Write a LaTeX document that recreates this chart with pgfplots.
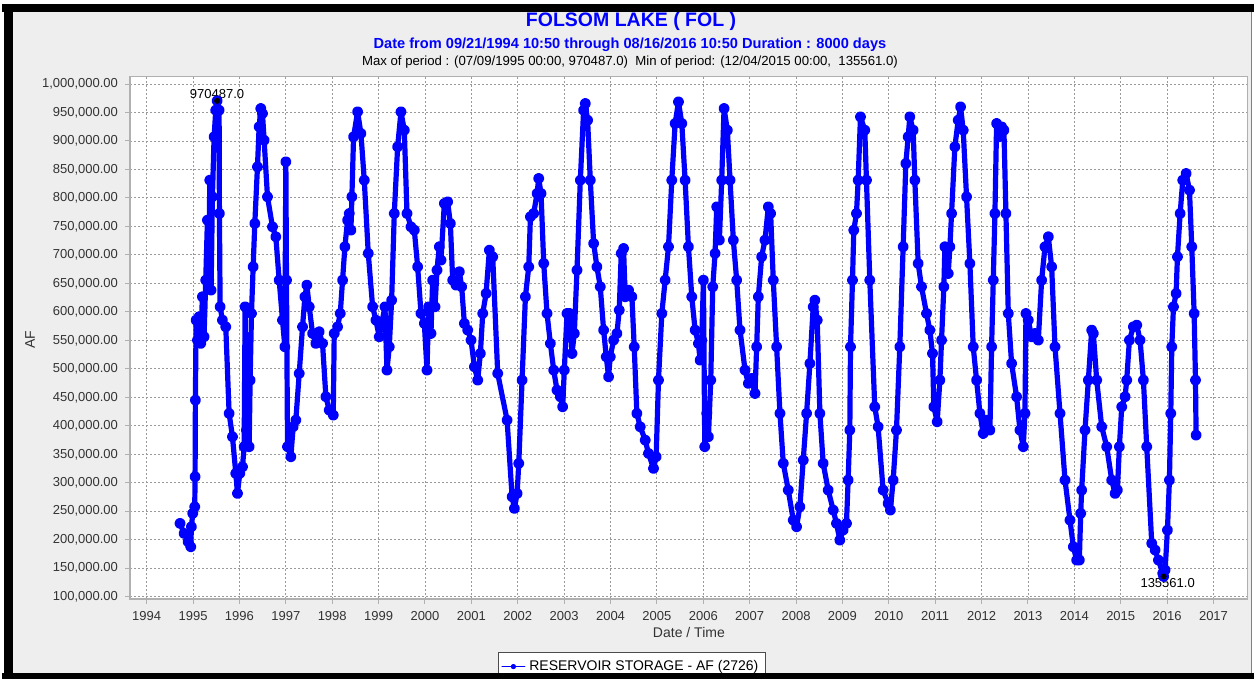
\documentclass[border=0pt]{standalone}
\usepackage{fontspec}
\setmainfont{Liberation Sans}
\usepackage{pgfplots}
\pgfplotsset{compat=1.18}
\definecolor{panel}{HTML}{EEEEEE}
\definecolor{frameg}{HTML}{B0B0B0}
\definecolor{gridg}{HTML}{9A9A9A}
\definecolor{serblue}{RGB}{0,0,255}
\definecolor{lbl}{HTML}{333333}
\begin{document}
\begin{tikzpicture}
\fill[white] (0,0) rectangle (627bp,339.5bp);
\path[use as bounding box] (0,0) rectangle (627bp,339.5bp);
\fill[panel] (6bp,3bp) rectangle (625.5bp,333.5bp);
\node[font=\fontsize{9.75bp}{11bp}\selectfont\bfseries, text=serblue] at (315.5bp,328.8bp) {FOLSOM LAKE ( FOL )};
\node[font=\fontsize{7.3bp}{9bp}\selectfont\bfseries, text=serblue] at (315bp,317.3bp) {Date from 09/21/1994 10:50 through 08/16/2016 10:50 Duration : 8000 days};
\node[font=\fontsize{6.6bp}{8bp}\selectfont, text=black] at (315bp,308.5bp) {Max of period : (07/09/1995 00:00, 970487.0)\ \ Min of period: (12/04/2015 00:00,\ \ 135561.0)};
\begin{axis}[
  at={(65bp,40bp)}, anchor=south west,
  scale only axis, width=558.9bp, height=261.2bp,
  xmin=1993.64, xmax=2017.74,
  ymin=96000, ymax=1013000,
  xtick={1994,1995,...,2017},
  ytick={100000,150000,...,1000000},
  scaled x ticks=false, scaled y ticks=false,
  xticklabel style={/pgf/number format/.cd, 1000 sep={}, assume math mode=true},
  yticklabel style={/pgf/number format/.cd, fixed, fixed zerofill, precision=2, 1000 sep={,}, assume math mode=true},
  tick label style={font=\fontsize{6.5bp}{8bp}\selectfont, text=lbl},
  tick align=outside, tick pos=left,
  major tick length=2.5bp,
  tick style={frameg, line width=0.5bp},
  axis line style={frameg, line width=0.6bp},
  axis background/.style={fill=white},
  grid=major,
  major grid style={gridg, dash pattern=on 1bp off 1bp, line width=0.45bp},
  xlabel={Date / Time}, ylabel={AF},
  xlabel style={at={(axis description cs:0.5,-0.0632)}, anchor=center, font=\fontsize{7bp}{8bp}\selectfont, text=lbl},
  ylabel style={at={(axis description cs:-0.0894,0.496)}, anchor=center, font=\fontsize{7bp}{8bp}\selectfont, text=lbl},
  legend style={at={(0.449,-0.1015)}, anchor=north, draw=black!70, fill=white, font=\fontsize{7bp}{8bp}\selectfont, inner xsep=1.5bp, inner ysep=1.8bp, text=black},
  legend cell align=left,
  legend image code/.code={\draw[mark repeat=2,mark phase=2,line width=0.6bp, mark size=1bp] plot coordinates {(0cm,0cm) (0.2cm,0cm) (0.4cm,0cm)};},
]
\addplot[serblue, line width=2.6bp, line join=round, line cap=round, mark=*, mark size=1.45bp, mark options={solid}] coordinates {
(1994.719,228700) (1994.806,211100) (1994.892,196500) (1994.950,187700) (1994.964,222800)
(1994.993,246300) (1995.036,257900) (1995.043,310600) (1995.050,445100) (1995.065,585500)
(1995.094,550400) (1995.129,591400) (1995.165,544600) (1995.201,626500) (1995.237,556300)
(1995.273,655700) (1995.309,761000) (1995.338,655700) (1995.360,831200) (1995.388,638200)
(1995.417,802000) (1995.453,907300) (1995.489,954100) (1995.518,970487) (1995.561,954100)
(1995.568,772700) (1995.583,608900) (1995.633,585500) (1995.705,573800) (1995.777,421800)
(1995.849,380800) (1995.921,316400) (1995.957,281300) (1996.007,316400) (1996.065,328100)
(1996.101,363300) (1996.122,608900) (1996.151,392500) (1996.173,538700) (1996.209,363300)
(1996.230,480200) (1996.259,597200) (1996.295,679100) (1996.331,755200) (1996.388,854600)
(1996.424,924800) (1996.460,957000) (1996.496,948200) (1996.532,901400) (1996.604,802000)
(1996.712,749300) (1996.784,731800) (1996.856,655700) (1996.928,585500) (1996.978,538700)
(1997.000,863400) (1997.014,655700) (1997.036,363300) (1997.108,345700) (1997.158,398300)
(1997.216,410000) (1997.288,491900) (1997.360,573800) (1997.410,626500) (1997.453,647000)
(1997.504,608900) (1997.576,562100) (1997.647,544600) (1997.719,565100) (1997.791,544600)
(1997.863,451000) (1997.935,427600) (1998.022,418800) (1998.043,562100) (1998.115,573800)
(1998.173,597200) (1998.223,655700) (1998.273,714300) (1998.331,761000) (1998.367,772700)
(1998.403,743500) (1998.424,802000) (1998.460,907300) (1998.547,951200) (1998.619,913100)
(1998.691,831200) (1998.777,702600) (1998.871,608900) (1998.942,585500) (1999.014,556300)
(1999.065,579700) (1999.137,608900) (1999.180,497800) (1999.230,538700) (1999.281,620600)
(1999.338,772700) (1999.410,889700) (1999.482,951200) (1999.554,919000) (1999.612,772700)
(1999.698,749300) (1999.770,743500) (1999.842,679100) (1999.914,597200) (1999.986,579700)
(2000.043,497800) (2000.079,608900) (2000.129,562100) (2000.165,655700) (2000.216,608900)
(2000.259,673300) (2000.309,714300) (2000.345,690900) (2000.417,790300) (2000.489,793200)
(2000.547,755200) (2000.597,655700) (2000.669,647000) (2000.741,670400) (2000.791,644100)
(2000.849,579700) (2000.921,568000) (2000.993,550400) (2001.065,503600) (2001.137,480200)
(2001.194,527000) (2001.245,597200) (2001.317,632300) (2001.388,708400) (2001.460,696700)
(2001.568,491900) (2001.770,410000) (2001.878,275500) (2001.928,255000) (2001.986,281300)
(2002.022,334000) (2002.093,480200) (2002.165,626500) (2002.237,679100) (2002.273,766900)
(2002.344,772700) (2002.416,807800) (2002.452,834200) (2002.502,807800) (2002.560,685000)
(2002.631,597200) (2002.703,544600) (2002.775,497800) (2002.846,462700) (2002.918,451000)
(2002.968,433400) (2003.004,497800) (2003.062,597200) (2003.119,597200) (2003.169,527000)
(2003.220,562100) (2003.277,673300) (2003.349,831200) (2003.420,954100) (2003.456,965800)
(2003.506,936500) (2003.564,831200) (2003.636,720100) (2003.707,679100) (2003.779,644100)
(2003.851,568000) (2003.908,521200) (2003.958,486100) (2003.994,521200) (2004.066,550400)
(2004.138,562100) (2004.188,603100) (2004.231,702600) (2004.281,711300) (2004.317,626500)
(2004.389,638200) (2004.461,626500) (2004.511,538700) (2004.568,421800) (2004.640,398300)
(2004.748,374900) (2004.819,351500) (2004.927,325200) (2004.984,345700) (2005.034,480200)
(2005.106,597200) (2005.178,655700) (2005.250,714300) (2005.321,831200) (2005.393,930700)
(2005.465,968700) (2005.537,930700) (2005.608,831200) (2005.680,714300) (2005.752,626500)
(2005.824,568000) (2005.895,544600) (2005.931,515300) (2005.967,550400) (2006.003,655700)
(2006.032,363300) (2006.075,421800) (2006.111,380800) (2006.161,480200) (2006.204,644100)
(2006.254,702600) (2006.290,784400) (2006.347,726000) (2006.397,831200) (2006.448,957000)
(2006.519,919000) (2006.577,831200) (2006.648,726000) (2006.720,655700) (2006.792,568000)
(2006.900,497800) (2006.971,474400) (2007.043,483200) (2007.115,456800) (2007.151,538700)
(2007.187,626500) (2007.258,696700) (2007.330,726000) (2007.402,784400) (2007.452,772700)
(2007.509,655700) (2007.581,538700) (2007.653,421800) (2007.725,334000) (2007.832,287200)
(2007.940,234500) (2008.011,222800) (2008.083,257900) (2008.155,339800) (2008.227,421800)
(2008.299,509500) (2008.370,608900) (2008.406,620600) (2008.456,585500) (2008.514,421800)
(2008.585,334000) (2008.693,287200) (2008.801,252100) (2008.872,228700) (2008.944,199400)
(2009.016,217000) (2009.087,228700) (2009.123,304700) (2009.159,392500) (2009.174,538700)
(2009.217,655700) (2009.245,743500) (2009.303,772700) (2009.339,831200) (2009.389,942400)
(2009.482,919000) (2009.518,831200) (2009.590,655700) (2009.697,433400) (2009.769,398300)
(2009.877,287200) (2009.984,263800) (2010.034,252100) (2010.094,304700) (2010.165,392500)
(2010.237,538700) (2010.309,714300) (2010.367,860500) (2010.417,907300) (2010.453,942400)
(2010.525,919000) (2010.561,831200) (2010.633,685000) (2010.705,644100) (2010.813,597200)
(2010.885,568000) (2010.942,527000) (2010.971,433400) (2011.043,407100) (2011.101,480200)
(2011.137,550400) (2011.187,644100) (2011.209,714300) (2011.281,667400) (2011.317,714300)
(2011.353,772700) (2011.424,889700) (2011.496,936500) (2011.547,959900) (2011.604,919000)
(2011.676,802000) (2011.748,685000) (2011.820,538700) (2011.892,480200) (2011.964,421800)
(2012.036,386600) (2012.108,410000) (2012.180,392500) (2012.216,538700) (2012.252,655700)
(2012.288,772700) (2012.324,930700) (2012.381,907300) (2012.432,924800) (2012.482,919000)
(2012.525,772700) (2012.576,597200) (2012.647,509500) (2012.755,451000) (2012.827,392500)
(2012.899,363300) (2012.935,421800) (2012.957,597200) (2013.007,585500) (2013.079,556300)
(2013.151,562100) (2013.223,550400) (2013.295,655700) (2013.367,714300) (2013.439,731800)
(2013.511,679100) (2013.583,538700) (2013.691,421800) (2013.799,304700) (2013.906,234500)
(2013.978,187700) (2014.050,164300) (2014.108,164300) (2014.137,246300) (2014.158,287200)
(2014.230,392500) (2014.302,480200) (2014.374,568000) (2014.410,562100) (2014.482,480200)
(2014.590,398300) (2014.698,363300) (2014.806,304700) (2014.878,281300) (2014.928,287200)
(2014.971,363300) (2015.022,433400) (2015.094,451000) (2015.129,480200) (2015.187,550400)
(2015.273,573800) (2015.345,576800) (2015.417,550400) (2015.489,480200) (2015.561,363300)
(2015.669,193600) (2015.741,181900) (2015.813,164300) (2015.906,141000) (2015.925,135561)
(2015.957,146800) (2016.007,217000) (2016.050,304700) (2016.079,421800) (2016.101,538700)
(2016.137,608900) (2016.194,632300) (2016.223,696700) (2016.281,772700) (2016.338,831200)
(2016.410,842900) (2016.482,813700) (2016.532,714300) (2016.583,597200) (2016.612,480200)
(2016.625,383700)
};
\addlegendentry{RESERVOIR STORAGE - AF (2726)}
\addplot[only marks, mark=*, mark size=1.3bp, black, forget plot] coordinates {(1995.518,970487) (2015.925,135561)};
\node[anchor=south, font=\fontsize{6.5bp}{8bp}\selectfont, inner sep=0.8bp] at (axis cs:1995.518,970487) {970487.0};
\node[anchor=north, font=\fontsize{6.5bp}{8bp}\selectfont, inner sep=1bp, xshift=2bp] at (axis cs:2015.925,135561) {135561.0};
\end{axis}
\fill[black] (1bp,333.5bp) rectangle (627bp,337.5bp);
\fill[black] (2bp,0) rectangle (6.25bp,337.5bp);
\fill[black] (1bp,0) rectangle (627bp,3bp);
\draw[gray, line width=0.5bp] (625.75bp,3bp) -- (625.75bp,333.5bp);
\end{tikzpicture}
\end{document}
